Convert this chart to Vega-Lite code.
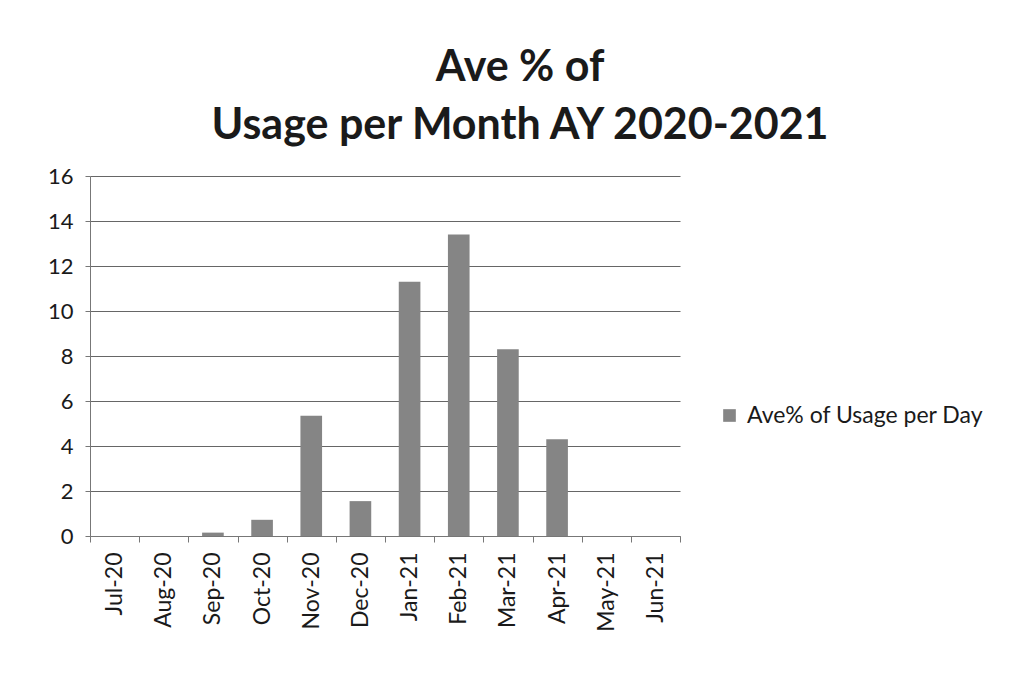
{
  "$schema": "https://vega.github.io/schema/vega-lite/v6.json",
  "width": 590,
  "height": 360,
  "autosize": {"type": "none"},
  "padding": {"left": 90, "top": 176, "right": 349, "bottom": 142},
  "background": "white",
  "title": {
    "text": ["Ave % of", "Usage per Month AY 2020-2021"],
    "font": "Lato",
    "fontSize": 43,
    "fontWeight": "bold",
    "color": "#1a1a1a",
    "anchor": "middle",
    "dx": 135,
    "lineHeight": 58,
    "offset": 17
  },
  "data": {
    "values": [
      {"month": "Jul-20", "value": 0, "series": "Ave% of Usage per Day"},
      {"month": "Aug-20", "value": 0, "series": "Ave% of Usage per Day"},
      {"month": "Sep-20", "value": 0.15, "series": "Ave% of Usage per Day"},
      {"month": "Oct-20", "value": 0.72, "series": "Ave% of Usage per Day"},
      {"month": "Nov-20", "value": 5.35, "series": "Ave% of Usage per Day"},
      {"month": "Dec-20", "value": 1.55, "series": "Ave% of Usage per Day"},
      {"month": "Jan-21", "value": 11.3, "series": "Ave% of Usage per Day"},
      {"month": "Feb-21", "value": 13.4, "series": "Ave% of Usage per Day"},
      {"month": "Mar-21", "value": 8.3, "series": "Ave% of Usage per Day"},
      {"month": "Apr-21", "value": 4.3, "series": "Ave% of Usage per Day"},
      {"month": "May-21", "value": 0, "series": "Ave% of Usage per Day"},
      {"month": "Jun-21", "value": 0, "series": "Ave% of Usage per Day"}
    ]
  },
  "mark": {"type": "bar", "width": {"band": 0.44}},
  "encoding": {
    "x": {
      "field": "month",
      "type": "ordinal",
      "sort": null,
      "title": null,
      "scale": {"paddingInner": 0, "paddingOuter": 0},
      "axis": {
        "labelAngle": -90,
        "labelFont": "Lato",
        "labelFontSize": 23,
        "labelColor": "#1a1a1a",
        "labelPadding": 10,
        "tickBand": "extent",
        "tickSize": 6,
        "tickColor": "#777",
        "domainColor": "#777",
        "grid": false
      }
    },
    "y": {
      "field": "value",
      "type": "quantitative",
      "title": null,
      "scale": {"domain": [0, 16]},
      "axis": {
        "values": [0, 2, 4, 6, 8, 10, 12, 14, 16],
        "labelFont": "Lato",
        "labelFontSize": 22,
        "labelColor": "#1a1a1a",
        "labelPadding": 12,
        "tickSize": 5,
        "tickColor": "#777",
        "domainColor": "#777",
        "gridColor": "#666",
        "gridWidth": 1.2
      }
    },
    "color": {
      "field": "series",
      "type": "nominal",
      "scale": {"range": ["#858585"]},
      "legend": {
        "title": null,
        "orient": "none",
        "legendX": 628,
        "legendY": 228,
        "symbolType": "square",
        "symbolSize": 160,
        "labelFont": "Lato",
        "labelFontSize": 23,
        "labelLimit": 0,
        "labelColor": "#1a1a1a",
        "labelOffset": 6
      }
    }
  },
  "config": {"view": {"stroke": null}}
}
